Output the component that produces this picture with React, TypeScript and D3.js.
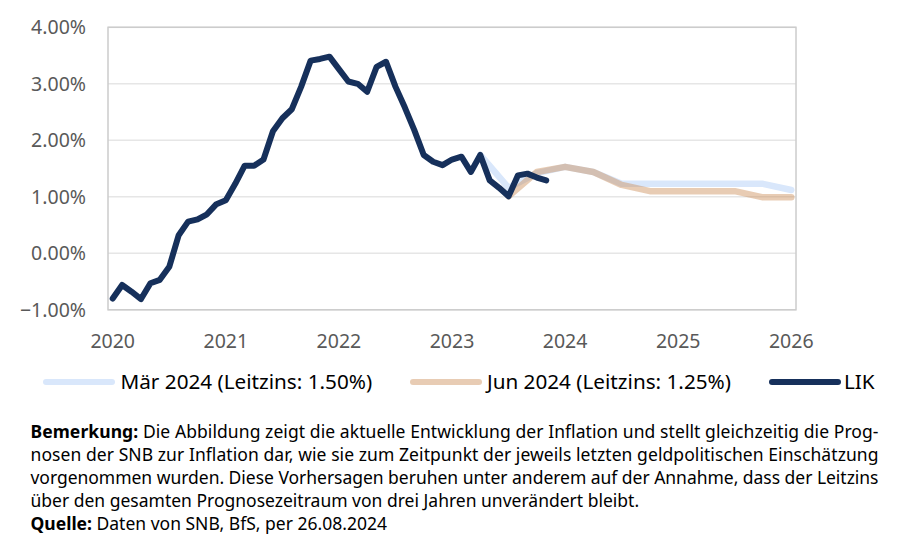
import React from "react";
import * as d3 from "d3";

// LIK (monthly, plotted from month index 0 = Jan 2020 on the axis)
const likValues = [
  -0.8, -0.56, -0.68, -0.81, -0.53, -0.47, -0.24, 0.32, 0.56, 0.6, 0.69, 0.87,
  0.94, 1.23, 1.55, 1.55, 1.66, 2.16, 2.39, 2.55, 2.95, 3.41, 3.44, 3.48,
  3.26, 3.04, 3.0, 2.86, 3.3, 3.39, 2.95, 2.58, 2.18, 1.74, 1.62, 1.56,
  1.66, 1.71, 1.44, 1.74, 1.29, 1.16, 1.01, 1.38, 1.41, 1.34, 1.29,
];
// Forecast March 2024 (quarterly points, month index)
const marMonths = [39, 42, 45, 48, 51, 54, 57, 60, 63, 66, 69, 72];
const marValues = [1.74, 1.16, 1.42, 1.53, 1.44, 1.23, 1.23, 1.23, 1.23, 1.23, 1.23, 1.12];
// Forecast June 2024
const junMonths = [42, 45, 48, 51, 54, 57, 60, 63, 66, 69, 72];
const junValues = [1.01, 1.44, 1.53, 1.44, 1.21, 1.1, 1.1, 1.1, 1.1, 0.99, 0.99];

const yTicks = [-1, 0, 1, 2, 3, 4];
const xYears = [2020, 2021, 2022, 2023, 2024, 2025, 2026];

const legendLabels = ["Mär 2024 (Leitzins: 1.50%)", "Jun 2024 (Leitzins: 1.25%)", "LIK"];

const noteLines = [
  { bold: "Bemerkung:", text: " Die Abbildung zeigt die aktuelle Entwicklung der Inflation und stellt gleichzeitig die Prog-", justify: true },
  { bold: "", text: "nosen der SNB zur Inflation dar, wie sie zum Zeitpunkt der jeweils letzten geldpolitischen Einschätzung", justify: true },
  { bold: "", text: "vorgenommen wurden. Diese Vorhersagen beruhen unter anderem auf der Annahme, dass der Leitzins", justify: true },
  { bold: "", text: "über den gesamten Prognosezeitraum von drei Jahren unverändert bleibt.", justify: false },
  { bold: "Quelle:", text: " Daten von SNB, BfS, per 26.08.2024", justify: false },
];

const NAVY = "#16305b";
const LBLUE = "#d9e7fb";
const BEIGE = "rgb(204,142,89)";
const BEIGE_OP = 0.45;

export default function App() {
  const left = 108, right = 796, top = 27.3, bottom = 309.8;
  const x = d3.scaleLinear().domain([-0.5, 72.5]).range([left, right]);
  const y = d3.scaleLinear().domain([-1, 4]).range([bottom, top]);

  const lineGen = d3
    .line<[number, number]>()
    .x((d) => x(d[0]))
    .y((d) => y(d[1]))
    .curve(d3.curveLinear);

  const likPath = lineGen(likValues.map((v, i) => [i, v] as [number, number])) || "";
  const marPath = lineGen(marMonths.map((m, i) => [m, marValues[i]] as [number, number])) || "";
  const junPath = lineGen(junMonths.map((m, i) => [m, junValues[i]] as [number, number])) || "";

  const font = "'Noto Sans', 'Open Sans', sans-serif";

  const legendItems = [
    { x1: 46, x2: 112, tx: 120.5, color: LBLUE, op: 1, label: legendLabels[0] },
    { x1: 413, x2: 479, tx: 487, color: BEIGE, op: BEIGE_OP, label: legendLabels[1] },
    { x1: 772, x2: 838, tx: 844, color: NAVY, op: 1, label: legendLabels[2] },
  ];

  return (
    <svg
      width={900}
      height={554}
      style={{ position: "absolute", left: 0, top: 0, background: "#fff" }}
      fontFamily={font}
    >
      <rect x={0} y={0} width={900} height={554} fill="#fff" />
      {/* gridlines */}
      {yTicks.map((t) => (
        <line key={"g" + t} x1={left} x2={right} y1={y(t)} y2={y(t)} stroke="#e6e6e6" strokeWidth={1.5} />
      ))}
      {/* frame */}
      <rect x={left} y={top} width={right - left} height={bottom - top} fill="none" stroke="#cccccc" strokeWidth={1.5} />
      {/* y labels */}
      {yTicks.map((t) => (
        <text key={"y" + t} x={86} y={y(t)} dy="0.36em" textAnchor="end" fontSize={19.5} fill="#595959">
          {d3.format(".2f")(t) + "%"}
        </text>
      ))}
      {/* x labels */}
      {xYears.map((yr) => (
        <text key={"x" + yr} x={x((yr - 2020) * 12)} y={348} textAnchor="middle" fontSize={19.5} fill="#595959">
          {yr}
        </text>
      ))}
      {/* series */}
      <path d={marPath} fill="none" stroke={LBLUE} strokeWidth={6.5} strokeLinejoin="round" strokeLinecap="round" />
      <path d={junPath} fill="none" stroke={BEIGE} strokeOpacity={BEIGE_OP} strokeWidth={6.5} strokeLinejoin="round" strokeLinecap="round" />
      <path d={likPath} fill="none" stroke={NAVY} strokeWidth={6} strokeLinejoin="round" strokeLinecap="round" />
      {/* legend */}
      {legendItems.map((it) => (
        <g key={it.label}>
          <line x1={it.x1} x2={it.x2} y1={382} y2={382} stroke={it.color} strokeOpacity={it.op} strokeWidth={6} strokeLinecap="round" />
          <text x={it.tx} y={389} fontSize={20.7} fill="#000">
            {it.label}
          </text>
        </g>
      ))}
      {/* note */}
      {noteLines.map((ln, i) => (
        <text
          key={"n" + i}
          x={30.5}
          y={437.5 + i * 23}
          fontSize={17.5}
          fill="#000"
          {...(ln.justify ? { textLength: 848, lengthAdjust: "spacing" } : {})}
        >
          {ln.bold ? <tspan fontWeight="bold">{ln.bold}</tspan> : null}
          <tspan>{ln.text}</tspan>
        </text>
      ))}
    </svg>
  );
}
